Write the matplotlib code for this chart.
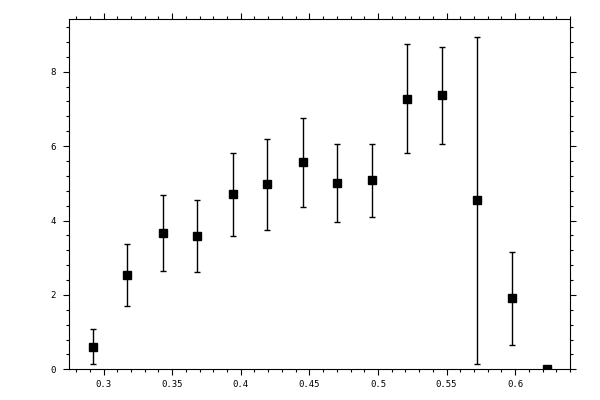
import numpy as np
import matplotlib
matplotlib.use("Agg")
import matplotlib.pyplot as plt
from matplotlib.ticker import MultipleLocator

# values
x_vals = [0.292, 0.317, 0.343, 0.368, 0.394, 0.419, 0.445,
          0.470, 0.496, 0.521, 0.547, 0.572, 0.598, 0.623]
y_vals = [0.61, 2.53, 3.66, 3.58, 4.70, 4.97, 5.56,
          5.00, 5.08, 7.28, 7.37, 4.54, 1.91, 0.0]
y_err = [0.46, 0.84, 1.02, 0.96, 1.12, 1.23, 1.19,
         1.05, 0.98, 1.46, 1.30, 4.40, 1.25, 0.0]

x_ticks = [0.3, 0.35, 0.4, 0.45, 0.5, 0.55, 0.6]
x_tick_labels = ["0.3", "0.35", "0.4", "0.45", "0.5", "0.55", "0.6"]
y_ticks = [0, 2, 4, 6, 8]

plt.rcParams["font.family"] = "DejaVu Sans Mono"

fig = plt.figure(figsize=(6, 4), dpi=100)
ax = fig.add_axes([0.1155, 0.0768, 0.8345, 0.875])

ax.errorbar(x_vals, y_vals, yerr=y_err, fmt="s", color="black",
            markersize=5.3, elinewidth=1, capsize=2.5, capthick=1)

ax.set_xlim(0.275, 0.640)
ax.set_ylim(0, 9.41)

ax.set_xticks(x_ticks)
ax.set_xticklabels(x_tick_labels)
ax.set_yticks(y_ticks)
ax.xaxis.set_minor_locator(MultipleLocator(0.01))
ax.yaxis.set_minor_locator(MultipleLocator(0.4))

ax.tick_params(which="both", direction="out", top=True, right=True,
               labelsize=6.5, width=0.8)
ax.tick_params(which="major", length=4)
ax.tick_params(which="minor", length=2)
ax.tick_params(axis="y", pad=6)
ax.tick_params(axis="x", pad=4)

for sp in ax.spines.values():
    sp.set_linewidth(0.8)

fig.savefig("out.png", dpi=100)
